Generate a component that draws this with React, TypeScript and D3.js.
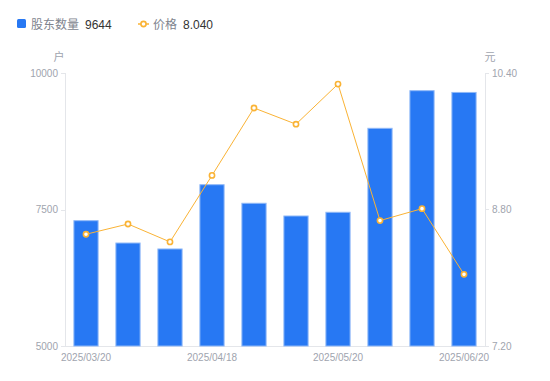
import React from "react";
import * as d3 from "d3";

const categories = [
  "2025/03/20", "2025/03/31", "2025/04/10", "2025/04/18", "2025/04/30",
  "2025/05/09", "2025/05/20", "2025/05/30", "2025/06/10", "2025/06/20",
];
const holders = [7295, 6886, 6777, 7954, 7614, 7381, 7449, 8987, 9676, 9644];
const prices = [8.51, 8.63, 8.42, 9.2, 9.99, 9.8, 10.27, 8.67, 8.81, 8.04];
const leftTicks = [5000, 7500, 10000];
const rightTicks = [7.2, 8.8, 10.4];
const xLabelIdx = [0, 3, 6, 9];

const W = 550, H = 381;
const L = 65, R = 485, T = 73, B = 346;
const FONT = "'Liberation Sans', Arial, 'Noto Sans CJK SC', sans-serif";
const BLUE = "#2778f3";
const ORANGE = "#fab335";
const AXIS = "#e4e6ea";
const LABEL = "#a0a4ae";

export default function App() {
  const x = d3.scaleBand<string>().domain(categories).range([L, R]).paddingInner(0.4).paddingOuter(0.2);
  const band = d3.scaleBand<string>().domain(categories).range([L, R]);
  const yL = d3.scaleLinear().domain([5000, 10000]).range([B, T]);
  const yR = d3.scaleLinear().domain([7.2, 10.4]).range([B, T]);
  const cx = (c: string) => (band(c) as number) + band.bandwidth() / 2;
  const line = d3.line<number>().x((_, i) => cx(categories[i])).y((d) => yR(d));

  return (
    <svg width={W} height={H} style={{ position: "absolute", left: 0, top: 0, fontFamily: FONT }}>
      <rect width={W} height={H} fill="#fff" />
      {/* legend */}
      <rect x={17} y={19} width={9} height={9} rx={1.5} fill={BLUE} />
      <text x={31} y={28.5} fontSize={12} fill="#80848e">股东数量</text>
      <text x={85} y={28.5} fontSize={12} fill="#333">{holders[holders.length - 1]}</text>
      <line x1={138} x2={149} y1={24} y2={24} stroke={ORANGE} strokeWidth={1.5} />
      <circle cx={143.5} cy={24} r={2.6} fill="#fff" stroke={ORANGE} strokeWidth={1.6} />
      <text x={153} y={28.5} fontSize={12} fill="#80848e">价格</text>
      <text x={183} y={28.5} fontSize={12} fill="#333">{prices[prices.length - 1].toFixed(3)}</text>

      {/* unit labels */}
      <text x={59} y={61} fontSize={11} fill={LABEL} textAnchor="middle">户</text>
      <text x={490} y={61} fontSize={11} fill={LABEL} textAnchor="middle">元</text>

      {/* axes */}
      <line x1={L + 0.5} x2={L + 0.5} y1={T} y2={B} stroke={AXIS} />
      <line x1={R + 0.5} x2={R + 0.5} y1={T} y2={B} stroke={AXIS} />
      <line x1={L - 4} x2={R + 4} y1={B + 0.5} y2={B + 0.5} stroke={AXIS} />
      {leftTicks.map((t) => (
        <g key={"l" + t}>
          <line x1={L - 4} x2={L} y1={Math.round(yL(t)) + 0.5} y2={Math.round(yL(t)) + 0.5} stroke={AXIS} />
          <text x={L - 7} y={yL(t) + 3.5} fontSize={10} fill={LABEL} textAnchor="end">{t}</text>
        </g>
      ))}
      {rightTicks.map((t) => (
        <g key={"r" + t}>
          <line x1={R} x2={R + 4} y1={Math.round(yR(t)) + 0.5} y2={Math.round(yR(t)) + 0.5} stroke={AXIS} />
          <text x={R + 7} y={yR(t) + 3.5} fontSize={10} fill={LABEL}>{t.toFixed(2)}</text>
        </g>
      ))}
      {xLabelIdx.map((i) => (
        <text key={"x" + i} x={cx(categories[i])} y={361} fontSize={10} fill={LABEL} textAnchor="middle">
          {categories[i]}
        </text>
      ))}

      {/* bars */}
      {holders.map((v, i) => (
        <rect
          key={"b" + i}
          x={(x(categories[i]) as number) + 0.5}
          y={yL(v)}
          width={x.bandwidth() - 1}
          height={B - yL(v)}
          fill={BLUE}
          stroke="#8fb8f7"
          strokeWidth={1}
        />
      ))}

      {/* price line */}
      <path d={line(prices) || ""} fill="none" stroke={ORANGE} strokeWidth={1} />
      {prices.map((p, i) => (
        <circle key={"p" + i} cx={cx(categories[i])} cy={yR(p)} r={2.6} fill="#fff" stroke={ORANGE} strokeWidth={1.6} />
      ))}
    </svg>
  );
}
